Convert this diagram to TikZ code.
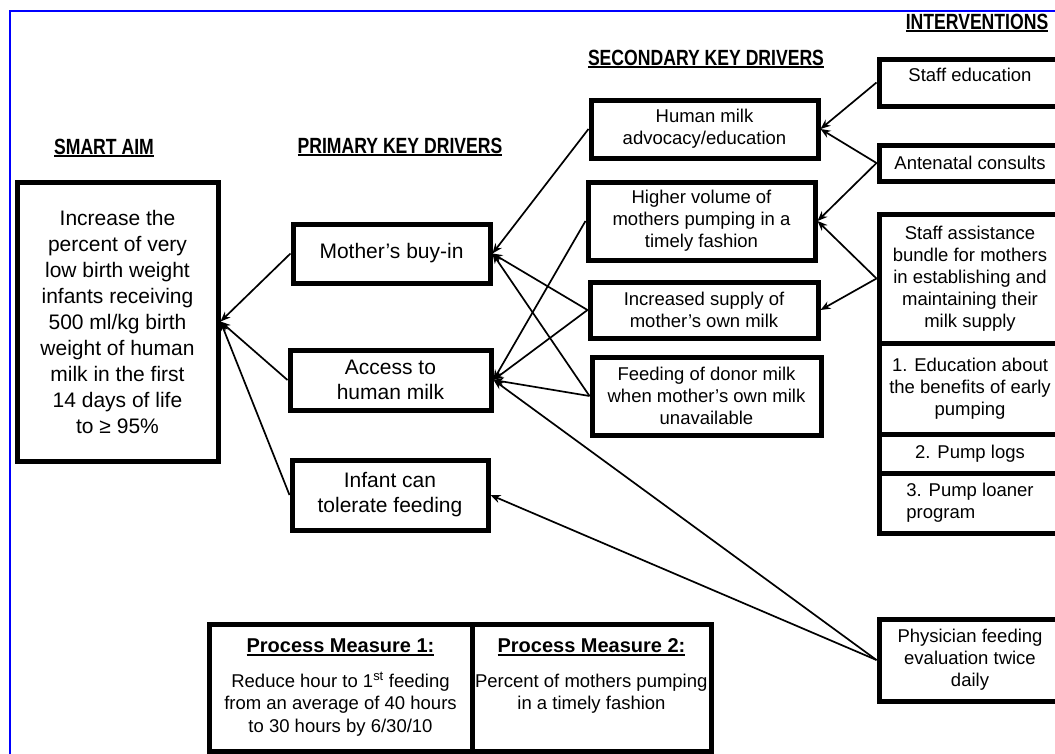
\documentclass[tikz,border=0pt]{standalone}
\usepackage{fontspec}
\setmainfont{Liberation Sans}
\newfontfamily\headfont[FakeStretch=0.8]{Liberation Sans}
\newsavebox\ulbox
\newcommand\ulin[1]{\sbox\ulbox{#1}\rlap{\rule[-3pt]{\wd\ulbox}{1.8pt}}\usebox\ulbox}
\usetikzlibrary{arrows.meta}

\begin{document}
\begin{tikzpicture}[x=1pt,y=1pt,yscale=-1,
  box/.style={draw,line width=5pt,align=center,inner sep=1pt,font=\fontsize{18.5}{22}\selectfont},
  primbox/.style={box,font=\fontsize{21}{25}\selectfont},
  head/.style={font=\headfont\bfseries\fontsize{22}{24}\selectfont,inner sep=0pt},
  conn/.style={-{Stealth[length=10pt,width=8pt]},line width=1.7pt}]
\useasboundingbox (0,0) rectangle (1055,753);
\draw [color={rgb,255:red,0;green,0;blue,255},line width=2pt] (10,760) -- (10,11) -- (1062,11);
\node [head] (hAim) at (104,148) {\ulin{SMART AIM}};
\node [head] (hPrimary) at (400,147) {\ulin{PRIMARY KEY DRIVERS}};
\node [head] (hSecondary) at (706,59) {\ulin{SECONDARY KEY DRIVERS}};
\node [head] (hInterv) at (977,23) {\ulin{INTERVENTIONS}};
\node [box,font=\fontsize{21}{26}\selectfont,minimum width=201,minimum height=279] (aim) at (117.5,321.5) {Increase the\\percent of very\\low birth weight\\infants receiving\\500 ml/kg birth\\weight of human\\milk in the first\\14 days of life\\to ≥ 95\%};
\node [primbox,minimum width=197,minimum height=59] (mother) at (391.5,253.5) {Mother's buy-in};
\node [primbox,minimum width=201,minimum height=60] (access) at (390.5,380) {Access to\\human milk};
\node [primbox,minimum width=196,minimum height=70] (infant) at (390,495) {Infant can\\tolerate feeding};
\node [box,minimum width=227,minimum height=58] (advocacy) at (704.5,129) {Human milk\\advocacy/education};
\node [box,minimum width=227,minimum height=78] (volume) at (701.5,221) {Higher volume of\\mothers pumping in a\\timely fashion};
\node [box,minimum width=228,minimum height=56] (supply) at (704,310) {Increased supply of\\mother's own milk};
\node [box,minimum width=229,minimum height=78] (donor) at (706.5,396) {Feeding of donor milk\\when mother's own milk\\unavailable};
\node [box,minimum width=182,minimum height=47] (staffedu) at (970,82.5) {Staff education\\[-6pt]~};
\node [box,minimum width=182,minimum height=36] (antenatal) at (970,163) {Antenatal consults};
\node [box,minimum width=182,minimum height=129] (assist) at (970,278.5) {Staff assistance\\bundle for mothers\\in establishing and\\maintaining their\\milk supply};
\node [box,minimum width=182,minimum height=91] (edu1) at (970,388.5) {1. Education about\\the benefits of early\\pumping};
\node [box,minimum width=182,minimum height=39] (logs) at (970,453.5) {2. Pump logs};
\node [box,align=left,minimum width=182,minimum height=60] (loaner) at (970,503) {3. Pump loaner\\program};
\node [box,minimum width=182,minimum height=82] (physician) at (970,660) {Physician feeding\\evaluation twice\\daily};
\node [box,font=\fontsize{18.5}{22.5}\selectfont,minimum width=263,minimum height=127] (pm1) at (340.5,687.5) {{\fontsize{20}{23}\selectfont\bfseries\ulin{Process Measure 1:}}\\[12pt]Reduce hour to 1\textsuperscript{st} feeding\\from an average of 40 hours\\to 30 hours by 6/30/10};
\node [box,font=\fontsize{18.5}{22.5}\selectfont,minimum width=239,minimum height=127] (pm2) at (591.5,687.5) {{\fontsize{20}{23}\selectfont\bfseries\ulin{Process Measure 2:}}\\[12pt]Percent of mothers pumping\textsuperscript{\vphantom{st}}\\in a timely fashion\\\vphantom{to 30 hours by}};
\draw [conn] (mother.west) -- (aim.east);
\draw [conn] (access.west) -- (aim.east);
\draw [conn] (infant.west) -- (aim.east);
\draw [conn] (advocacy.west) -- (mother.east);
\draw [conn] (supply.west) -- (mother.east);
\draw [conn] (donor.west) -- (mother.east);
\draw [conn] (volume.west) -- (access.east);
\draw [conn] (supply.west) -- (access.east);
\draw [conn] (donor.west) -- (access.east);
\draw [conn] (physician.west) -- (access.east);
\draw [conn] (physician.west) -- (infant.east);
\draw [conn] (staffedu.west) -- (advocacy.east);
\draw [conn] (antenatal.west) -- (advocacy.east);
\draw [conn] (antenatal.west) -- (volume.east);
\draw [conn] (assist.west) -- (volume.east);
\draw [conn] (assist.west) -- (supply.east);
\end{tikzpicture}
\end{document}
